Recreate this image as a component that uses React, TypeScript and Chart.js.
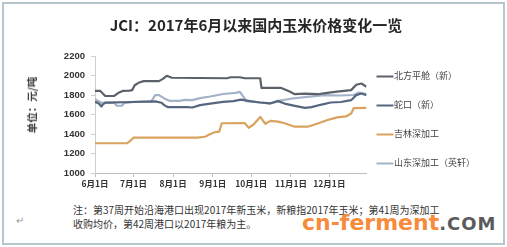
import React, { useEffect, useRef } from "react";
import { Chart, registerables } from "chart.js";

Chart.register(...registerables);

// Day offsets counted from 6月1日
const monthTicks = [0, 30, 61, 92, 122, 153, 183];
const monthLabels = ["6月1日", "7月1日", "8月1日", "9月1日", "10月1日", "11月1日", "12月1日"];
const yTicks = [1000, 1200, 1400, 1600, 1800, 2000, 2200];

const seriesNames = ["北方平舱（新）", "蛇口（新）", "吉林深加工", "山东深加工（英轩）"];

// [day, 元/吨]
const beifang: [number, number][] = [
  [0, 1843], [4, 1843], [8, 1790], [15, 1790], [18, 1820], [22, 1843], [27, 1845], [29, 1850],
  [31, 1900], [34, 1925], [38, 1942], [50, 1942], [53, 1965], [56, 1997], [60, 1977], [103, 1972],
  [106, 1982], [113, 1982], [117, 1972], [129, 1972], [130, 1874], [145, 1874], [152, 1835],
  [156, 1808], [164, 1815], [174, 1808], [180, 1820], [189, 1835], [200, 1850], [204, 1905],
  [208, 1918], [212, 1885],
];
const shekou: [number, number][] = [
  [0, 1730], [3, 1712], [5, 1682], [6, 1700], [8, 1722], [30, 1728], [47, 1735], [52, 1720],
  [54, 1696], [57, 1675], [72, 1675], [76, 1672], [82, 1696], [90, 1712], [100, 1730], [108, 1737],
  [114, 1752], [121, 1737], [129, 1723], [137, 1715], [143, 1737], [148, 1712], [156, 1689],
  [164, 1668], [169, 1675], [177, 1702], [184, 1723], [192, 1728], [200, 1747], [204, 1799],
  [208, 1815], [212, 1799],
];
const jilin: [number, number][] = [
  [0, 1305], [25, 1305], [28, 1335], [30, 1362], [80, 1362], [86, 1372], [90, 1400], [94, 1420],
  [97, 1425], [99, 1510], [117, 1512], [120, 1463], [124, 1500], [129, 1575], [133, 1505],
  [137, 1535], [143, 1527], [148, 1510], [156, 1475], [166, 1475], [174, 1507], [181, 1541],
  [189, 1570], [196, 1580], [200, 1610], [202, 1665], [212, 1668],
];
const shandong: [number, number][] = [
  [0, 1760], [2, 1740], [5, 1720], [15, 1720], [17, 1690], [21, 1690], [23, 1720], [30, 1730],
  [44, 1735], [47, 1799], [50, 1799], [55, 1758], [58, 1740], [66, 1740], [70, 1750], [76, 1748],
  [82, 1768], [90, 1785], [100, 1810], [110, 1822], [113, 1833], [116, 1781], [118, 1737],
  [129, 1723], [137, 1712], [143, 1740], [154, 1764], [166, 1781], [179, 1799], [192, 1795],
  [202, 1800], [206, 1826], [210, 1815], [212, 1810],
];

const colors = ["#5b616b", "#56667e", "#d9a35f", "#a3b2c6"];

const legendLines = {
  id: "legendLines",
  afterDraw(chart: any) {
    const legend = chart.legend;
    if (!legend || !legend.legendHitBoxes) return;
    const ctx = chart.ctx;
    legend.legendHitBoxes.forEach((box: any, i: number) => {
      const item = legend.legendItems[i];
      const ds = chart.data.datasets[item.datasetIndex];
      const y = Math.round(box.top + box.height / 2) + 0.5;
      ctx.save();
      ctx.strokeStyle = ds.borderColor;
      ctx.lineWidth = 2;
      ctx.beginPath();
      ctx.moveTo(box.left, y);
      ctx.lineTo(box.left + 17, y);
      ctx.stroke();
      ctx.restore();
    });
  },
};

export default function App() {
  const ref = useRef<HTMLCanvasElement>(null);
  useEffect(() => {
    if (!ref.current) return;
    const all = [beifang, shekou, jilin, shandong];
    const chart = new Chart(ref.current, {
      type: "line",
      data: {
        datasets: all.map((s, i) => ({
          label: seriesNames[i],
          data: s.map(([x, y]) => ({ x, y })),
          borderColor: colors[i],
          backgroundColor: colors[i],
          borderWidth: 2.2,
          pointRadius: 0,
          tension: 0,
          borderJoinStyle: "round" as const,
        })),
      },
      options: {
        animation: false,
        responsive: false,
        events: [],
        layout: { padding: { top: 56, left: 0, right: 22, bottom: 7 } },
        plugins: {
          tooltip: { enabled: false },
          legend: {
            position: "right",
            align: "start",
            labels: {
              boxWidth: 13,
              boxHeight: 19,
              padding: 10,
              color: "#444",
              font: { size: 9, family: "'Noto Sans CJK SC', sans-serif" },
              generateLabels: (c: any) =>
                (Chart.defaults.plugins.legend.labels.generateLabels as any)(c).map((l: any) => ({
                  ...l,
                  fillStyle: "rgba(0,0,0,0)",
                  strokeStyle: "rgba(0,0,0,0)",
                  lineWidth: 0,
                })),
            },
          },
        },
        scales: {
          x: {
            type: "linear",
            min: 0,
            max: 212,
            afterBuildTicks: (scale: any) => {
              scale.ticks = monthTicks.map((v) => ({ value: v }));
            },
            afterFit: (scale: any) => {
              scale.height = 20;
            },
            ticks: {
              autoSkip: false,
              maxRotation: 0,
              padding: 2,
              color: "#333",
              font: { size: 8.5, weight: "bold", family: "'Noto Sans CJK SC', sans-serif" },
              callback: (v: any) => {
                const i = monthTicks.indexOf(Number(v));
                return i >= 0 ? monthLabels[i] : "";
              },
            },
            grid: { drawOnChartArea: false, drawTicks: true, tickLength: 4, color: "#bfbfbf" },
            border: { display: true, color: "#bfbfbf", width: 1 },
          },
          y: {
            min: 1000,
            max: 2200,
            afterBuildTicks: (scale: any) => {
              scale.ticks = yTicks.map((v) => ({ value: v }));
            },
            afterFit: (scale: any) => {
              scale.width = 95;
            },
            ticks: {
              padding: 6,
              color: "#333",
              font: { size: 9.5, weight: "bold", family: "'Liberation Sans', Arial, sans-serif" },
              callback: (v: any) => String(v),
            },
            grid: { drawOnChartArea: false, drawTicks: true, tickLength: 4, color: "#cfcfcf" },
            border: { display: true, color: "#cfcfcf", width: 1 },
          },
        },
      },
      plugins: [legendLines],
    } as any);
    return () => chart.destroy();
  }, []);

  return (
    <div
      style={{
        position: "fixed",
        left: 0,
        top: 0,
        width: 507,
        height: 247,
        background: "#fff",
        overflow: "hidden",
        fontFamily: "'Noto Sans CJK SC', sans-serif",
      }}
    >
      <div
        style={{
          position: "absolute",
          left: 2,
          top: 2,
          width: 499,
          height: 239,
          border: "2px solid #b7c6cd",
        }}
      />
      <canvas ref={ref} width={507} height={200} style={{ position: "absolute", left: 0, top: 0 }} />
      <div
        style={{
          position: "absolute",
          left: 0,
          top: 15,
          width: 512,
          textAlign: "center",
          fontSize: 15,
          lineHeight: "20px",
          fontWeight: "bold",
          color: "#262626",
        }}
      >
        JCI：2017年6月以来国内玉米价格变化一览
      </div>
      <div
        style={{
          position: "absolute",
          left: 32,
          top: 105,
          transform: "translate(-50%, -50%) rotate(-90deg)",
          whiteSpace: "nowrap",
          fontSize: 10.5,
          lineHeight: "14px",
          fontWeight: "bold",
          color: "#404040",
        }}
      >
        单位：元/吨
      </div>
      <div
        style={{
          position: "absolute",
          left: 73,
          top: 203,
          fontSize: 10,
          lineHeight: "14px",
          color: "#333",
          whiteSpace: "nowrap",
        }}
      >
        注：第37周开始沿海港口出现2017年新玉米，新粮指2017年玉米；第41周为深加工
        <br />
        收购均价，第42周港口以2017年粮为主。
      </div>
      <div style={{ position: "absolute", left: 16, top: 212, fontSize: 10, color: "#999" }}>↵</div>
      <div
        style={{
          position: "absolute",
          left: 302,
          top: 210,
          whiteSpace: "nowrap",
          lineHeight: "26px",
          fontFamily: "'DejaVu Sans', sans-serif",
          fontWeight: "bold",
        }}
      >
        <span style={{ fontSize: 22, color: "#f68b3c" }}>cn-ferment</span>
        <span style={{ fontSize: 18, color: "#5a5a5a", letterSpacing: 1 }}>.COM</span>
      </div>
    </div>
  );
}
